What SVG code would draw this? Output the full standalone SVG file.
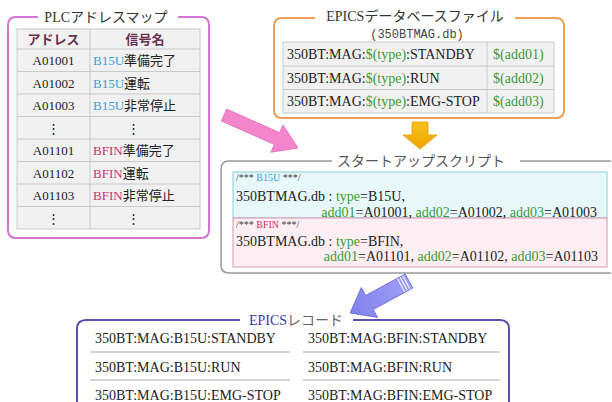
<svg xmlns="http://www.w3.org/2000/svg" width="612" height="402" viewBox="0 0 612 402">
<style>
text{font-family:"Liberation Serif","Noto Sans CJK JP",serif;fill:#222;}
.t13{font-size:13px;}
.t14{font-size:14px;}
.ttl{font-size:14px;fill:#333;}
.hdr{font-size:13px;font-weight:bold;fill:#6a3050;}
.b{fill:#3aa0d8;}
.r{fill:#d0306a;}
.g{fill:#3a9a3a;}
.cm{font-size:10px;fill:#444;}
.mono{font-family:"Liberation Mono","DejaVu Sans Mono",monospace;font-size:12px;fill:#444;}
.grid{fill:#f1f1f1;stroke:#c9c9c9;stroke-width:1;}
.gl{stroke:#c9c9c9;stroke-width:1;}
.sep{stroke:#aaa;stroke-width:1;}
</style>
<defs>
<linearGradient id="og" x1="0" y1="0" x2="0" y2="1"><stop offset="0" stop-color="#f7c21a"/><stop offset="1" stop-color="#f0a400"/></linearGradient>
<linearGradient id="pg" x1="0" y1="0" x2="1" y2="0"><stop offset="0" stop-color="#a0a0f4"/><stop offset="1" stop-color="#8080ec"/></linearGradient>
</defs>
<rect width="612" height="402" fill="#fff"/>

<!-- PLC address map -->
<g id="plc-map">
<path d="M38,17 H16 Q8,17 8,25 V230 Q8,238 16,238 H201 Q209,238 209,230 V25 Q209,17 201,17 H178" fill="none" stroke="#d276d6" stroke-width="2"/>
<text class="ttl" x="106" y="22" text-anchor="middle">PLCアドレスマップ</text>
<rect class="grid" x="17" y="29" width="183" height="200"/>
<line class="gl" x1="90" y1="29" x2="90" y2="229"/>
<line class="gl" x1="17" y1="49" x2="200" y2="49"/>
<line class="gl" x1="17" y1="71.5" x2="200" y2="71.5"/>
<line class="gl" x1="17" y1="94" x2="200" y2="94"/>
<line class="gl" x1="17" y1="116.5" x2="200" y2="116.5"/>
<line class="gl" x1="17" y1="139" x2="200" y2="139"/>
<line class="gl" x1="17" y1="161.5" x2="200" y2="161.5"/>
<line class="gl" x1="17" y1="184" x2="200" y2="184"/>
<line class="gl" x1="17" y1="206.5" x2="200" y2="206.5"/>
<text class="hdr" x="53.5" y="44" text-anchor="middle">アドレス</text>
<text class="hdr" x="145" y="44" text-anchor="middle">信号名</text>
<text class="t13" x="53.5" y="65" text-anchor="middle">A01001</text>
<text class="t13" x="93" y="65"><tspan class="b">B15U</tspan>準備完了</text>
<text class="t13" x="53.5" y="87.5" text-anchor="middle">A01002</text>
<text class="t13" x="93" y="87.5"><tspan class="b">B15U</tspan>運転</text>
<text class="t13" x="53.5" y="110" text-anchor="middle">A01003</text>
<text class="t13" x="93" y="110"><tspan class="b">B15U</tspan>非常停止</text>
<text class="t13" x="53.5" y="132.5" text-anchor="middle" fill="#666">⋮</text>
<text class="t13" x="133" y="132.5" text-anchor="middle" fill="#666">⋮</text>
<text class="t13" x="53.5" y="155" text-anchor="middle">A01101</text>
<text class="t13" x="93" y="155"><tspan class="r">BFIN</tspan>準備完了</text>
<text class="t13" x="53.5" y="177.5" text-anchor="middle">A01102</text>
<text class="t13" x="93" y="177.5"><tspan class="r">BFIN</tspan>運転</text>
<text class="t13" x="53.5" y="200" text-anchor="middle">A01103</text>
<text class="t13" x="93" y="200"><tspan class="r">BFIN</tspan>非常停止</text>
<text class="t13" x="53.5" y="222.5" text-anchor="middle" fill="#666">⋮</text>
<text class="t13" x="133" y="222.5" text-anchor="middle" fill="#666">⋮</text>
</g>

<!-- EPICS database file -->
<g id="epics-db">
<path d="M315,18 H282 Q274,18 274,26 V110 Q274,118 282,118 H556 Q564,118 564,110 V26 Q564,18 556,18 H515" fill="none" stroke="#f0a050" stroke-width="2"/>
<text class="ttl" x="415" y="21" text-anchor="middle">EPICSデータベースファイル</text>
<text class="mono" x="417" y="38" text-anchor="middle">(350BTMAG.db)</text>
<rect class="grid" x="283" y="42" width="271" height="71"/>
<line class="gl" x1="283" y1="66" x2="554" y2="66"/>
<line class="gl" x1="283" y1="89.5" x2="554" y2="89.5"/>
<line class="gl" x1="487" y1="42" x2="487" y2="113"/>
<text class="t14" x="287" y="59">350BT:MAG:<tspan class="g">$(type)</tspan>:STANDBY</text>
<text class="t14" x="287" y="82.5">350BT:MAG:<tspan class="g">$(type)</tspan>:RUN</text>
<text class="t14" x="287" y="106">350BT:MAG:<tspan class="g">$(type)</tspan>:EMG-STOP</text>
<text class="t14 g" x="493" y="59">$(add01)</text>
<text class="t14 g" x="493" y="82.5">$(add02)</text>
<text class="t14 g" x="493" y="106">$(add03)</text>
</g>

<!-- Startup script -->
<g id="startup-script">
<path d="M332,161 H229 Q221,161 221,169 V265 Q221,273 229,273 H611 M611,161 H520" fill="none" stroke="#999" stroke-width="1.5"/>
<text class="ttl" x="421" y="166" text-anchor="middle" style="fill:#555">スタートアップスクリプト</text>
<rect x="233" y="172" width="374" height="46" fill="#e8f8fa" stroke="#86cfdc" stroke-width="1"/>
<rect x="233" y="218" width="374" height="49" fill="#fdeef3" stroke="#dc94ae" stroke-width="1"/>
<text class="cm" x="236" y="181">/*** <tspan class="b">B15U</tspan> ***/</text>
<text class="t14" x="236" y="201">350BTMAG.db : <tspan class="g">type</tspan>=B15U,</text>
<text class="t14" x="597" y="217" text-anchor="end"><tspan class="g">add01</tspan>=A01001, <tspan class="g">add02</tspan>=A01002, <tspan class="g">add03</tspan>=A01003</text>
<text class="cm" x="236" y="228">/*** <tspan class="r">BFIN</tspan> ***/</text>
<text class="t14" x="236" y="246">350BTMAG.db : <tspan class="g">type</tspan>=BFIN,</text>
<text class="t14" x="598" y="261" text-anchor="end"><tspan class="g">add01</tspan>=A01101, <tspan class="g">add02</tspan>=A01102, <tspan class="g">add03</tspan>=A01103</text>
</g>

<!-- EPICS records -->
<g id="epics-records">
<path d="M240,320 H86 Q77,320 77,329 V404 M509,404 V329 Q509,320 500,320 H353" fill="none" stroke="#5a50b0" stroke-width="2"/>
<text class="ttl" x="296" y="325" text-anchor="middle"><tspan style="fill:#3a3aa0">EPICS</tspan><tspan style="fill:#666">レコード</tspan></text>
<text class="t14" x="95" y="343">350BT:MAG:B15U:STANDBY</text>
<text class="t14" x="95" y="372">350BT:MAG:B15U:RUN</text>
<text class="t14" x="95" y="400">350BT:MAG:B15U:EMG-STOP</text>
<text class="t14" x="308" y="343">350BT:MAG:BFIN:STANDBY</text>
<text class="t14" x="308" y="372">350BT:MAG:BFIN:RUN</text>
<text class="t14" x="308" y="400">350BT:MAG:BFIN:EMG-STOP</text>
<line class="sep" x1="90" y1="352" x2="290" y2="352"/>
<line class="sep" x1="90" y1="380" x2="290" y2="380"/>
<line class="sep" x1="303" y1="352" x2="500" y2="352"/>
<line class="sep" x1="303" y1="380" x2="500" y2="380"/>
</g>

<!-- Connectors -->
<g id="connectors">
<polygon transform="translate(224,115) rotate(24)" points="0,-6.5 58,-6.5 58,-15 81,0 58,15 58,6.5 0,6.5" fill="#f285cc" stroke="#e070bc" stroke-width="0.8"/>
<polygon points="412,122 428,122 428,135 437,135 420,149 403,135 412,135" fill="url(#og)" stroke="#e8a000" stroke-width="0.8"/>
<g transform="translate(409,281) rotate(151.5)">
<polygon points="0,-8 45,-8 45,-17 67,0 45,17 45,8 0,8" fill="url(#pg)" stroke="#6a6ad8" stroke-width="0.8"/>
<line x1="3" y1="-7.5" x2="3" y2="7.5" stroke="#fff" stroke-width="1"/>
<line x1="6" y1="-7.5" x2="6" y2="7.5" stroke="#fff" stroke-width="1"/>
<line x1="9" y1="-7.5" x2="9" y2="7.5" stroke="#fff" stroke-width="1"/>
</g>
</g>
</svg>
